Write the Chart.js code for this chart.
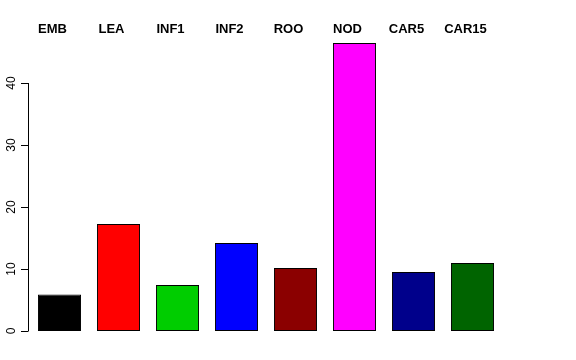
<!DOCTYPE html>
<html>
<head>
<meta charset="utf-8">
<script src="https://cdn.jsdelivr.net/npm/chart.js@4/dist/chart.umd.min.js"></script>
<style>
  html, body { margin: 0; padding: 0; background: #fff; }
  #wrap { width: 576px; height: 360px; }
</style>
</head>
<body>
<div id="wrap"><canvas id="chart" width="576" height="360"></canvas></div>
<script>
const categories = ['EMB', 'LEA', 'INF1', 'INF2', 'ROO', 'NOD', 'CAR5', 'CAR15'];
const values = [5.9, 17.25, 7.4, 14.2, 10.15, 46.45, 9.5, 10.95];
const barColors = ['#000000', '#FF0000', '#00CD00', '#0000FF', '#8B0000', '#FF00FF', '#00008B', '#006400'];
const yTicks = [0, 10, 20, 30, 40];

// R style axis on the left, only from first to last tick, labels rotated
const rAxis = {
    id: 'rAxis',
    afterDraw(chart) {
        const ctx = chart.ctx;
        const y = chart.scales.y;
        const x = chart.scales.x;
        const ax = chart.chartArea.left - 2;
        ctx.save();
        ctx.strokeStyle = '#000';
        ctx.lineWidth = 1;
        ctx.beginPath();
        ctx.moveTo(ax + 0.5, y.getPixelForValue(yTicks[0]));
        ctx.lineTo(ax + 0.5, y.getPixelForValue(yTicks[yTicks.length - 1]));
        yTicks.forEach(t => {
            const py = Math.round(y.getPixelForValue(t)) + 0.5;
            ctx.moveTo(ax + 0.5, py);
            ctx.lineTo(ax - 7, py);
        });
        ctx.stroke();

        ctx.fillStyle = '#000';
        ctx.font = '12px "Liberation Sans", Arial, sans-serif';
        ctx.textAlign = 'center';
        ctx.textBaseline = 'middle';
        yTicks.forEach(t => {
            ctx.save();
            ctx.translate(12, y.getPixelForValue(t));
            ctx.rotate(-Math.PI / 2);
            ctx.fillText(String(t), 0, 0);
            ctx.restore();
        });

        // category names along the top
        ctx.font = 'bold 13px "Liberation Sans", Arial, sans-serif';
        categories.forEach((c, i) => {
            ctx.fillText(c, x.getPixelForValue(i) - 7, 29);
        });
        ctx.restore();
    }
};

new Chart(document.getElementById('chart'), {
    type: 'bar',
    data: {
        labels: categories,
        datasets: [{
            data: values,
            backgroundColor: barColors,
            borderColor: '#000',
            borderWidth: 1,
            borderSkipped: false,
            categoryPercentage: 1,
            barPercentage: 0.73
        }]
    },
    options: {
        responsive: false,
        animation: false,
        layout: { padding: { left: 30, right: 74, top: 21, bottom: 29 } },
        plugins: { legend: { display: false }, tooltip: { enabled: false } },
        scales: {
            x: { display: false },
            y: { display: false, min: 0, max: 50 }
        }
    },
    plugins: [rAxis]
});
</script>
</body>
</html>
